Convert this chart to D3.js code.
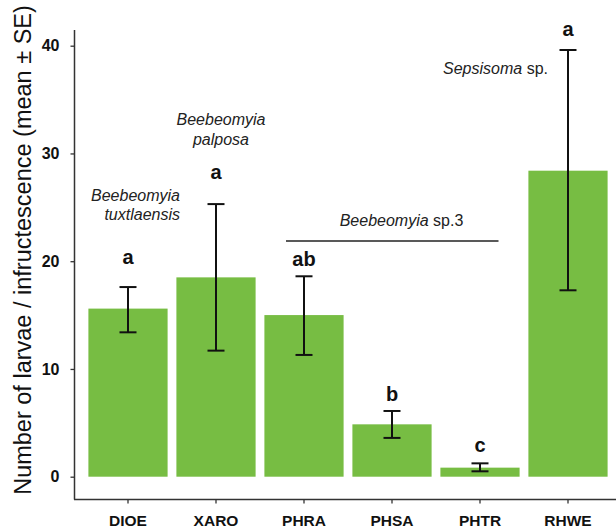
<!DOCTYPE html>
<html>
<head>
<meta charset="utf-8">
<script src="https://cdn.jsdelivr.net/npm/d3@7"></script>
<style>
  html, body { margin: 0; padding: 0; background: #fff; }
  svg { display: block; font-family: "Liberation Sans", Arial, sans-serif; }
</style>
</head>
<body>
<svg id="chart" width="616" height="530"></svg>
<script>
// ---- data ----
const categories = ["DIOE", "XARO", "PHRA", "PHSA", "PHTR", "RHWE"];
const means      = [15.6, 18.5, 15.0, 4.86, 0.84, 28.4];
const upper      = [17.6, 25.3, 18.6, 6.1, 1.24, 39.6];
const lower      = [13.4, 11.7, 11.3, 3.6, 0.5, 17.3];
const letters    = ["a", "a", "ab", "b", "c", "a"];
const letterAt   = [19.7, 27.6, 19.6, 7.0, 2.3, 40.9];
const yTicks     = [0, 10, 20, 30, 40];
const yTitle     = "Number of larvae / infructescence (mean ± SE)";

// ---- scales ----
const svg = d3.select("#chart");
const x = d3.scaleBand().domain(categories).range([84, 612]).paddingInner(0.1).paddingOuter(0.05);
const y = d3.scaleLinear().domain([0, 40]).range([476.7, 45.7]);
const cx = c => x(c) + x.bandwidth() / 2;

const axisColor = "#333";

// bars
svg.append("g").selectAll("rect").data(categories).join("rect")
  .attr("x", d => x(d))
  .attr("width", x.bandwidth())
  .attr("y", (d, i) => y(means[i]))
  .attr("height", (d, i) => y(0) - y(means[i]))
  .attr("fill", "#77bd43");

// error bars
const eb = svg.append("g").attr("stroke", "#111").attr("stroke-width", 2).attr("fill", "none");
categories.forEach((c, i) => {
  const xc = cx(c);
  eb.append("line").attr("x1", xc).attr("x2", xc).attr("y1", y(upper[i])).attr("y2", y(lower[i]));
  eb.append("line").attr("x1", xc - 8.5).attr("x2", xc + 8.5).attr("y1", y(upper[i])).attr("y2", y(upper[i]));
  eb.append("line").attr("x1", xc - 8.5).attr("x2", xc + 8.5).attr("y1", y(lower[i])).attr("y2", y(lower[i]));
});

// significance letters
svg.append("g").selectAll("text").data(categories).join("text")
  .attr("x", d => cx(d))
  .attr("y", (d, i) => y(letterAt[i]))
  .attr("text-anchor", "middle")
  .attr("font-size", 20)
  .attr("font-weight", "bold")
  .attr("fill", "#111")
  .text((d, i) => letters[i]);

// y axis
const yAxis = svg.append("g").attr("transform", "translate(74.5,0)")
  .call(d3.axisLeft(y).tickValues(yTicks).tickSize(4).tickPadding(11).tickSizeOuter(0));
yAxis.select(".domain").remove();
yAxis.append("line").attr("x1", 0).attr("x2", 0).attr("y1", 30).attr("y2", 499.5)
  .attr("stroke", axisColor).attr("stroke-width", 1.5);
yAxis.selectAll(".tick line").attr("stroke", axisColor).attr("stroke-width", 1.3);
yAxis.selectAll(".tick text").attr("font-size", 16).attr("font-weight", "bold")
  .attr("fill", "#111").attr("font-family", "Liberation Sans, Arial, sans-serif");

// x axis
const xAxis = svg.append("g").attr("transform", "translate(0,499.5)")
  .call(d3.axisBottom(x).tickSize(4).tickPadding(11).tickSizeOuter(0));
xAxis.select(".domain").remove();
xAxis.append("line").attr("x1", 74).attr("x2", 616).attr("y1", 0).attr("y2", 0)
  .attr("stroke", axisColor).attr("stroke-width", 1.5);
xAxis.selectAll(".tick line").attr("stroke", axisColor).attr("stroke-width", 1.3);
xAxis.selectAll(".tick text").attr("font-size", 15.5).attr("font-weight", "bold")
  .attr("fill", "#111").attr("font-family", "Liberation Sans, Arial, sans-serif");

// y title
svg.append("text")
  .attr("transform", "translate(31,250) rotate(-90)")
  .attr("text-anchor", "middle")
  .attr("font-size", 23.5)
  .attr("fill", "#111")
  .text(yTitle);

// species annotations
const ann = svg.append("g").attr("font-size", 16).attr("fill", "#222").attr("font-style", "italic");
ann.append("text").attr("x", 180).attr("y", 200.5).attr("text-anchor", "end").text("Beebeomyia");
ann.append("text").attr("x", 180).attr("y", 220).attr("text-anchor", "end").text("tuxtlaensis");
ann.append("text").attr("x", 221).attr("y", 125).attr("text-anchor", "middle").text("Beebeomyia");
ann.append("text").attr("x", 221).attr("y", 144.5).attr("text-anchor", "middle").text("palposa");

const sp3 = ann.append("text").attr("x", 401.5).attr("y", 226).attr("text-anchor", "middle");
sp3.append("tspan").text("Beebeomyia");
sp3.append("tspan").attr("font-style", "normal").text(" sp.3");
svg.append("line").attr("x1", 286).attr("x2", 498.5).attr("y1", 241).attr("y2", 241)
  .attr("stroke", "#222").attr("stroke-width", 1.3);

const seps = ann.append("text").attr("x", 548).attr("y", 74).attr("text-anchor", "end");
seps.append("tspan").text("Sepsisoma");
seps.append("tspan").attr("font-style", "normal").text(" sp.");
</script>
</body>
</html>
